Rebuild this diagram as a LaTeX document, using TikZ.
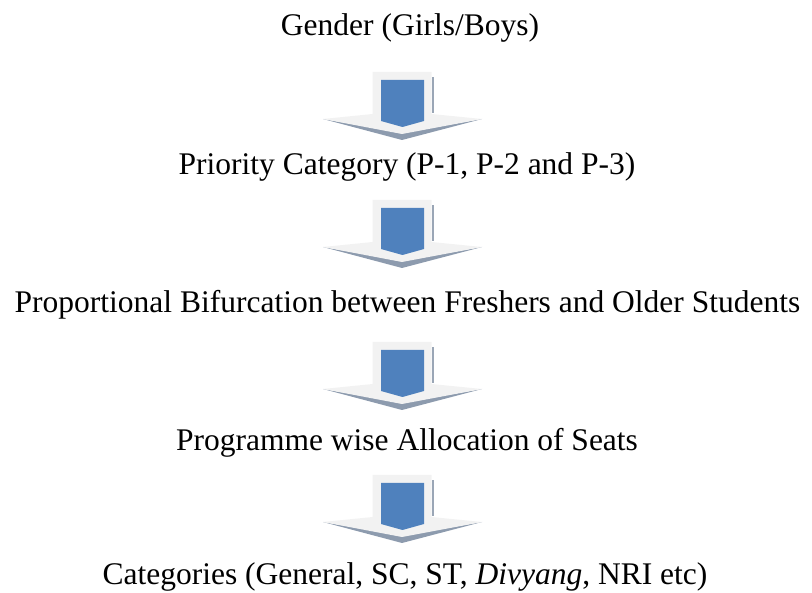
\documentclass[tikz,border=0pt]{standalone}
\usepackage{fontspec}
\setmainfont{LiberationSerif}[Extension=.ttf, UprightFont=*-Regular, ItalicFont=*-Italic, BoldFont=*-Bold, BoldItalicFont=*-BoldItalic]
\usetikzlibrary{calc}
\definecolor{arrowblue}{HTML}{4F81BD}
\definecolor{arrowface}{HTML}{F2F2F2}
\definecolor{arrowshade}{HTML}{8D9BAE}
\definecolor{arrowedge}{HTML}{9AA6B6}
\tikzset{%
        steplabel/.style = {font=\fontsize{31.5}{36}\selectfont, inner sep=0pt, anchor=base},
        downarrow/.pic = {
            % shadow under the head
            \fill[arrowshade] (-79,47) -- (0,68) -- (80,47) -- (0,61) -- cycle;
            % light body and head
            \fill[arrowface] (-29.5,0) -- (29.5,0) -- (29.5,42) -- (80,47)
                -- (0,62) -- (-79,47) -- (-29.5,42) -- cycle;
            \fill[arrowedge] (30,5) rectangle (32,41);
            % blue core
            \fill[arrowblue] (-21,8) -- (22,8) -- (22,49) -- (0.5,55) -- (-21,49) -- cycle;
        }
}
\begin{document}
\begin{tikzpicture}[x=1pt, y=-1pt]
    \useasboundingbox (0,0) rectangle (812,593);
    \node[steplabel] (gender) at (410,36) {Gender (Girls/Boys)};
    \node[steplabel] (priority) at (407,175) {Priority Category (P-1, P-2 and P-3)};
    \node[steplabel] (bifurcation) at (407.5,313) {Proportional Bifurcation between Freshers and Older Students};
    \node[steplabel] (programme) at (407,451) {Programme wise Allocation of Seats};
    \node[steplabel] (categories) at (405,585) {Categories (General, SC, ST, \textit{Divyang}, NRI etc)};
    \foreach \top in {72,200,342,475}
        \pic at (402,\top) {downarrow};
\end{tikzpicture}
\end{document}
